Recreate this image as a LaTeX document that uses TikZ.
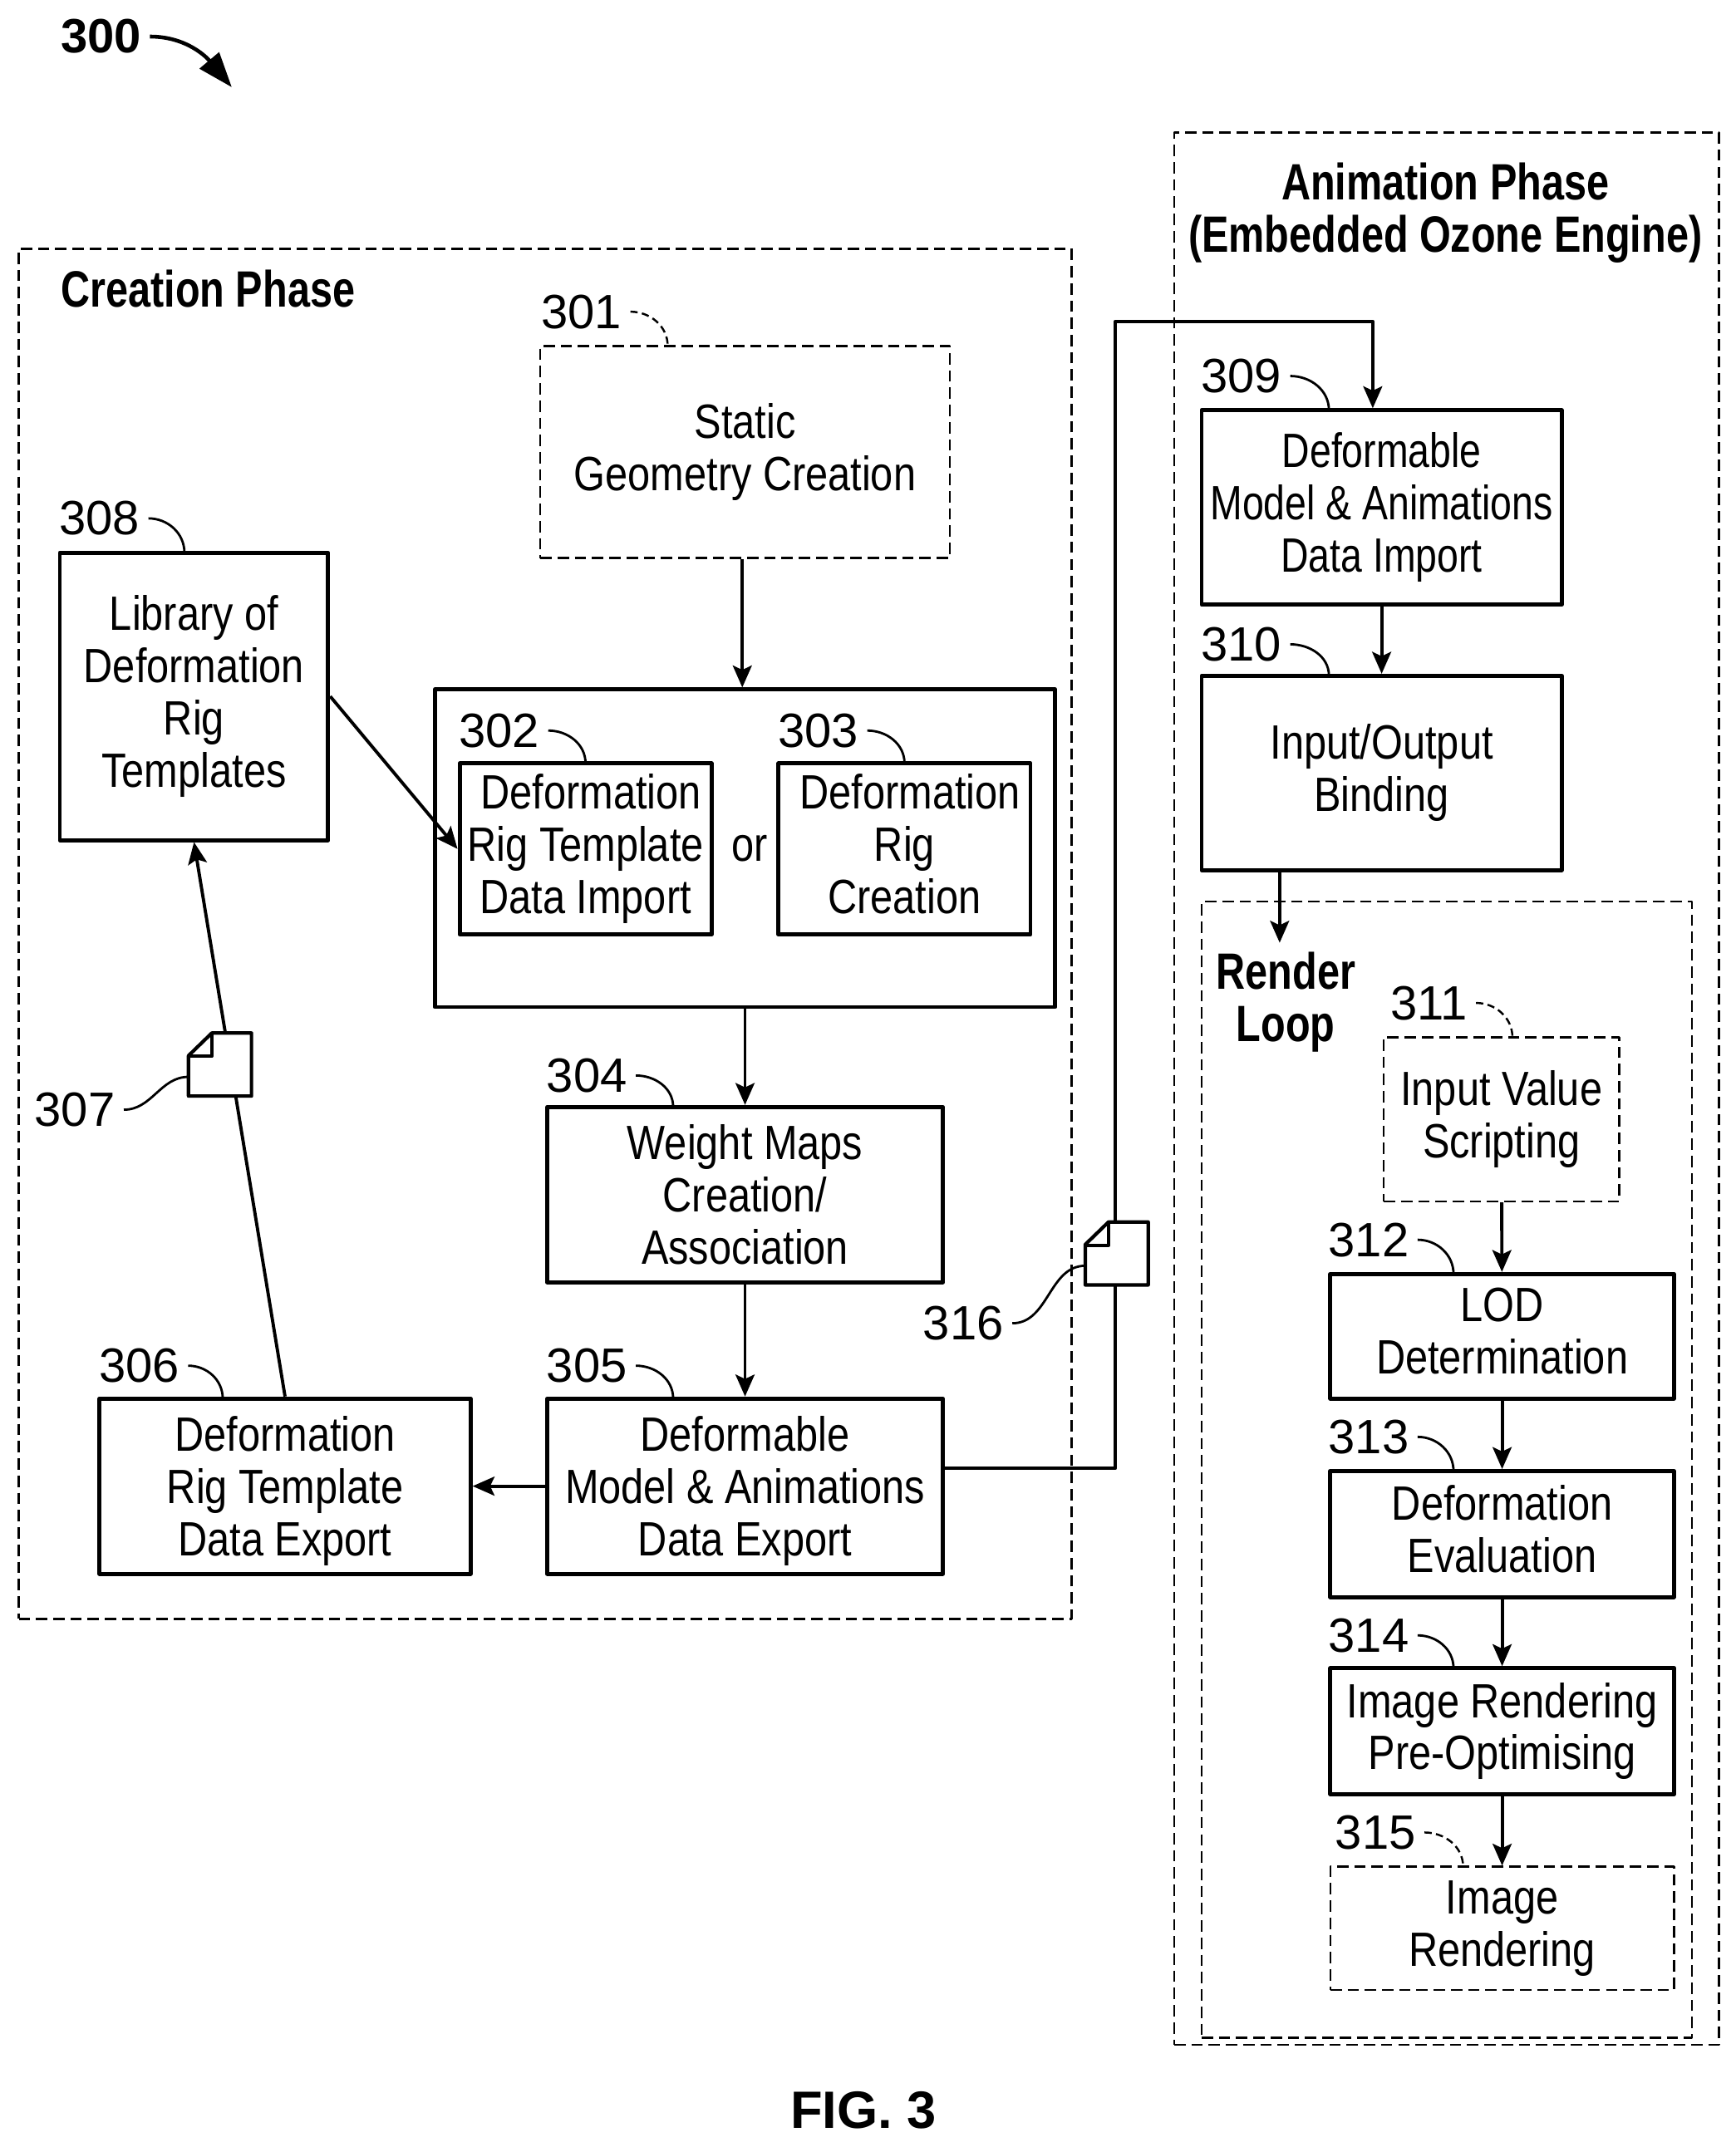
\documentclass[tikz,border=0pt]{standalone}
\usepackage{fontspec}
\setmainfont{Liberation Sans}
\newfontfamily\bodyfont[FakeStretch=0.84]{Liberation Sans}
\newfontfamily\tightfont[FakeStretch=0.80]{Liberation Sans}
\newfontfamily\headfont[FakeStretch=0.79]{Liberation Sans}
\usetikzlibrary{arrows.meta}
\def\unitw{0.016475cm}
\newcommand{\lastdp}{\rule[-3.5pt]{0pt}{0pt}}
\tikzset{
  wh/.style 2 args={minimum width=#1*\unitw, minimum height=#2*\unitw},
  stepbox/.style={draw, line width=1.4pt, inner sep=0pt, align=center,
    font=\bodyfont\fontsize{16.5}{17.9}\selectfont},
  dashbox/.style={stepbox, line width=0.7pt, dash pattern=on 3.9pt off 2pt},
  phase/.style={draw, line width=0.7pt, dash pattern=on 3.9pt off 2pt, inner sep=0pt},
  headtext/.style={inner sep=0pt, align=center,
    font=\headfont\bfseries\fontsize{17.5}{18}\selectfont},
  numtext/.style={inner sep=2.8pt, font=\fontsize{16.5}{18}\selectfont},
  flow/.style={line width=1.1pt, -{Stealth[length=7.5pt,width=6.5pt,inset=1.5pt]}},
  leader/.style={line width=0.8pt},
  leaderdash/.style={line width=0.7pt, dash pattern=on 2.5pt off 1.5pt},
  docicon/.pic={
    \draw[line width=1.2pt, fill=white, line join=round] (-23,-6.5)--(-6,-23)--(23,-23)--(23,23)--(-23,23)--cycle;
    \draw[line width=1.2pt, line join=round] (-23,-6)--(-6,-6)--(-6,-23);
  }
}
\begin{document}
\begin{tikzpicture}[x=\unitw, y=-\unitw, line join=round]
  \useasboundingbox (-0.7,-0.7) rectangle (1267.3,1567.8);
  % phases
  \node[phase, wh={769}{1001}] (creation) at (397.5,681.5) {};
  \node[phase, wh={398}{1397}] (animation) at (1056,794.5) {};
  \node[phase, wh={358}{830}] (renderloop) at (1056,1073) {};
  \node[headtext, anchor=west] (creationtitle) at (43.5,210.5) {Creation Phase};
  \node[headtext] (animationtitle) at (1055,155) {Animation Phase\\(Embedded Ozone Engine)};
  \node[headtext] (looptitle) at (938.5,731.5) {Render\\Loop};
  % creation boxes
  \node[dashbox, wh={299}{155}] (n301) at (543.5,329.5) {Static\\Geometry Creation};
  \node[stepbox, wh={453}{232}] (nbig) at (543.5,619) {};
  \node[stepbox, wh={184}{125}] (n302) at (427,619.5) {\hspace*{3.8pt}Deformation\\Rig Template\\Data Import};
  \node[stepbox, wh={184}{125}] (n303) at (660,619.5) {\hspace*{3.8pt}Deformation\\Rig\\Creation\lastdp};
  \node[stepbox, draw=none, wh={30}{30}] (nor) at (547,619) {or};
  \node[stepbox, wh={289}{128}] (n304) at (543.5,872) {Weight Maps\\Creation/\\Association};
  \node[stepbox, wh={289}{128}] (n305) at (543.5,1085) {Deformable\\Model \& Animations\\\smash{Data Export}};
  \node[stepbox, wh={271}{128}] (n306) at (207.5,1085) {Deformation\\Rig Template\\\smash{Data Export}};
  \node[stepbox, wh={196}{210}] (n308) at (141,508) {Library of\\Deformation\\Rig\\Templates};
  % animation boxes
  \node[stepbox, wh={263}{142}, font=\tightfont\fontsize{16.5}{17.9}\selectfont] (n309) at (1008.5,370) {Deformable\\Model \& Animations\\Data Import};
  \node[stepbox, wh={263}{142}] (n310) at (1008.5,564) {Input/Output\\Binding};
  \node[dashbox, wh={172}{120}] (n311) at (1096,817) {Input Value\\Scripting};
  \node[stepbox, wh={251}{91}] (n312) at (1096.5,975.5) {LOD\\Determination\lastdp};
  \node[stepbox, wh={251}{92}] (n313) at (1096.5,1120) {Deformation\\Evaluation\lastdp};
  \node[stepbox, wh={251}{92}] (n314) at (1096.5,1264) {Image Rendering\\Pre-Optimising};
  \node[dashbox, wh={251}{90}] (n315) at (1096.5,1408) {Image\\Rendering};
  % connectors
  \coordinate (bendA) at (814,234);
  \coordinate (loopin) at (934,688);
  \draw[flow] ([xshift=-2*\unitw]n301.south) -- ([xshift=-2*\unitw]nbig.north);
  \draw[flow] (nbig) -- (n304);
  \draw[flow] (n304) -- (n305);
  \draw[flow] (n305) -- (n306);
  \draw[flow] (n306.north) -- (n308.south);
  \draw[flow] (n308.east) -- (n302.west);
  \draw[flow] ([yshift=13*\unitw]n305.east) -| (bendA) -| ([xshift=-6.5*\unitw]n309.north);
  \draw[flow] (n309) -- (n310);
  \draw[flow] (loopin |- n310.south) -- (loopin);
  \draw[flow] (n311) -- (n312);
  \draw[flow] (n312) -- (n313);
  \draw[flow] (n313) -- (n314);
  \draw[flow] (n314) -- (n315);
  % page icons
  \path (160,777) pic {docicon};
  \path (815,915) pic {docicon};
  % reference numerals
  \foreach \n/\x/\y/\tx/\ty in {302/364/533/427/557, 303/597/533/660/557, 304/428/785/491/808,
    305/428/997/491/1021, 306/101/997/162/1021, 308/72/378/134/403, 309/906/274/970/299,
    310/906/470/970/493, 312/999/905/1061/930, 313/999/1049/1061/1074, 314/999/1194/1061/1218}{
    \node[numtext] (lab\n) at (\x,\y) {\n};
    \coordinate (tip\n) at (\tx,\ty);
    \draw[leader] (lab\n.east) to[out=0,in=90] (tip\n);}
  \foreach \n/\x/\y/\tx/\ty in {301/424/227/487/252, 311/1043/732/1104/757, 315/1004/1338/1068/1363}{
    \node[numtext] (lab\n) at (\x,\y) {\n};
    \coordinate (tip\n) at (\tx,\ty);
    \draw[leaderdash] (lab\n.east) to[out=0,in=90] (tip\n);}
  \foreach \n/\x/\y/\tx/\ty in {307/54/810/137/786, 316/703/966/792/924}{
    \node[numtext] (lab\n) at (\x,\y) {\n};
    \coordinate (tip\n) at (\tx,\ty);
    \draw[leader] (lab\n.east) to[out=0,in=180] (tip\n);}
  % figure number
  \node[inner sep=2.8pt, font=\bfseries\fontsize{16.5}{18}\selectfont] (n300) at (73,26) {300};
  \coordinate (tip300) at (168.6,63);
  \draw[line width=1.3pt, -{Stealth[length=12pt,width=8.5pt,inset=0pt]}] (n300.east) to[out=0,in=130] (tip300);
  \node[inner sep=0pt, font=\bfseries\fontsize{18}{20}\selectfont] (figlabel) at (630,1541) {FIG. 3};
\end{tikzpicture}
\end{document}
